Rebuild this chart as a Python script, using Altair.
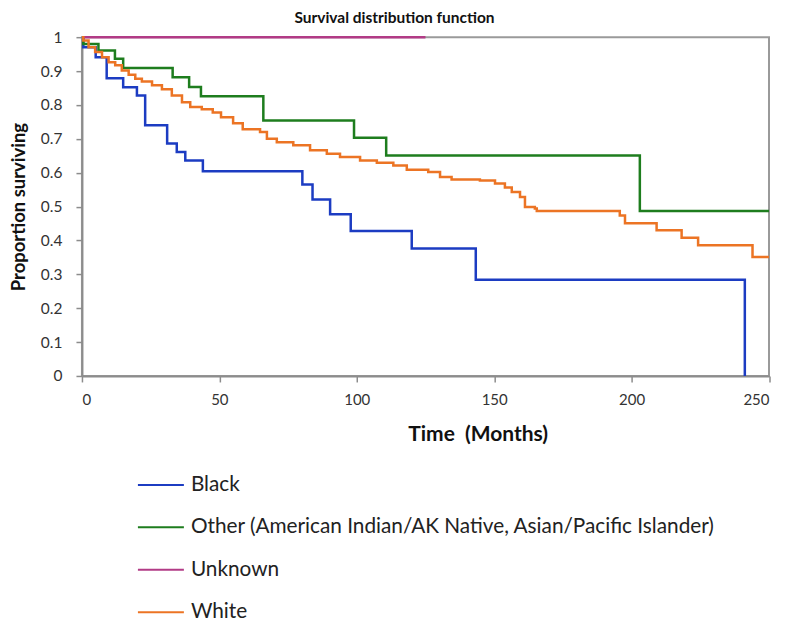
import altair as alt
import pandas as pd

groups = [
    "Black",
    "Other (American Indian/AK Native, Asian/Pacific Islander)",
    "Unknown",
    "White",
]
colors = ["#1c3cc2", "#1e7d1e", "#b23b86", "#ec7424"]

black_t = [0, 0.5, 5, 9, 15, 20, 23, 31, 34.5, 37.6, 44, 80.2, 83.9, 90.3, 97.8, 120, 143.3, 241.2]
black_s = [1.0, 0.97, 0.941, 0.879, 0.852, 0.828, 0.74, 0.686, 0.661, 0.636, 0.604, 0.565, 0.521, 0.477, 0.428, 0.376, 0.284, 0.0]

other_t = [0, 0.5, 6, 12, 15, 33, 39, 43.3, 66, 99, 110.7, 203, 250]
other_s = [1.0, 0.98, 0.961, 0.936, 0.909, 0.882, 0.853, 0.826, 0.754, 0.703, 0.651, 0.487, 0.487]

unknown_t = [0, 125]
unknown_s = [1.0, 1.0]

white_t = [0, 0.5, 2.4, 4.8, 7.3, 9.7, 12.1, 14.5, 17, 19.4, 21.8, 25.5, 29.1, 32.7, 36.4, 39.4,
           43.6, 47.6, 50.6, 55, 58.5, 64.8, 67.3, 70.9, 76.9, 83, 89.1, 93.9, 101.2, 107.3,
           113.3, 118.2, 126, 130.3, 134.5, 144.8, 150.3, 153.9, 156.4, 159.4, 161.2, 164.8,
           165.5, 195.7, 197.6, 209.1, 218.2, 224.2, 244, 250]
white_s = [1.0, 0.99, 0.97, 0.956, 0.941, 0.926, 0.917, 0.902, 0.889, 0.877, 0.869, 0.858, 0.846,
           0.828, 0.808, 0.794, 0.787, 0.778, 0.764, 0.746, 0.728, 0.72, 0.70, 0.69, 0.681, 0.666,
           0.656, 0.646, 0.636, 0.629, 0.621, 0.609, 0.602, 0.587, 0.58, 0.577, 0.568, 0.556,
           0.543, 0.528, 0.499, 0.494, 0.487, 0.474, 0.451, 0.43, 0.408, 0.386, 0.351, 0.351]

x_ticks = [0, 50, 100, 150, 200, 250]
y_ticks = [0, 0.1, 0.2, 0.3, 0.4, 0.5, 0.6, 0.7, 0.8, 0.9, 1.0]

rows = []
for g, ts, ss in zip(groups, [black_t, other_t, unknown_t, white_t],
                     [black_s, other_s, unknown_s, white_s]):
    for t, s in zip(ts, ss):
        rows.append({"group": g, "time": t, "surv": s})
df = pd.DataFrame(rows)

FONT = "Lato"

chart = alt.Chart(df).mark_line(interpolate="step-after", strokeWidth=2.5).encode(
    x=alt.X("time:Q",
            scale=alt.Scale(domain=[0, 250], nice=False),
            axis=alt.Axis(values=x_ticks, title="Time \u00a0(Months)", grid=False,
                          labelFontSize=15, labelPadding=11, tickSize=6,
                          titleFontSize=21, titleFontWeight="bold",
                          titleX=396, titleY=59, titleBaseline="middle")),
    y=alt.Y("surv:Q",
            scale=alt.Scale(domain=[0, 1], nice=False),
            axis=alt.Axis(values=y_ticks, format=".1~f", title="Proportion surviving",
                          grid=False, labelFontSize=15.5, labelPadding=14, tickSize=6,
                          titleFontSize=18.5, titleFontWeight="bold", titlePadding=12)),
    color=alt.Color("group:N",
                    scale=alt.Scale(domain=groups, range=colors),
                    legend=alt.Legend(title=None, orient="none", legendX=55, legendY=424,
                                      direction="vertical", symbolType="stroke",
                                      symbolSize=2116, symbolStrokeWidth=2,
                                      labelFontSize=20.8, labelFont=FONT, labelColor="#222222",
                                      labelOffset=6, rowPadding=8.5, labelLimit=0)),
).properties(
    width=687.5,
    height=339,
    title=alt.TitleParams("Survival distribution function", fontSize=15.5, font=FONT,
                          fontWeight="bold", anchor="middle", frame="group", dx=-31,
                          offset=3.5, color="#111111"),
    autosize="none",
    padding={"left": 74, "top": 29, "right": 10, "bottom": 246},
).configure(font=FONT).configure_view(
    stroke="#9a9a9a", strokeWidth=2
).configure_axis(
    domainColor="#8c8c8c", domainWidth=2, tickColor="#8c8c8c", tickWidth=1.5,
    labelColor="#333333", titleColor="#111111", labelFont=FONT, titleFont=FONT
)

chart.save("out.html", embed_options={"renderer": "svg", "actions": False})
